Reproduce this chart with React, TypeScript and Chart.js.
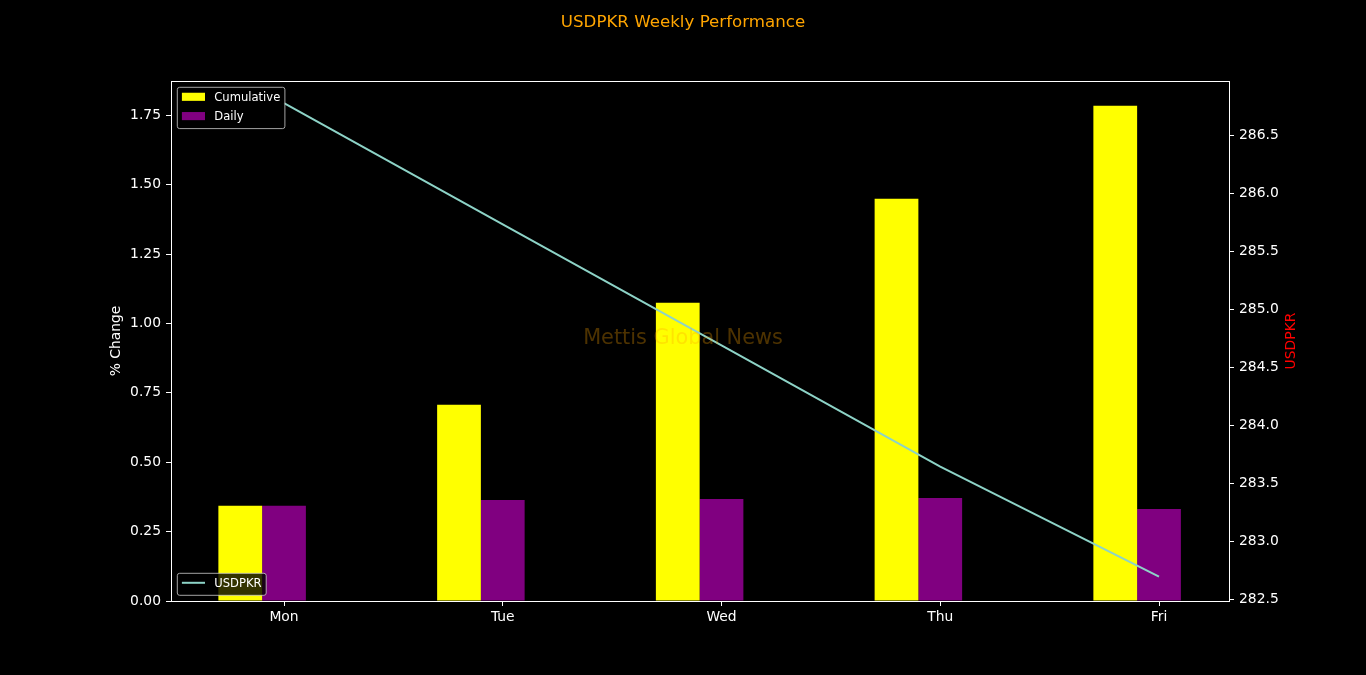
import React, { useEffect, useRef } from 'react';
import { Chart, registerables } from 'chart.js';

Chart.register(...registerables);

// ---- data ----
const days = ['Mon', 'Tue', 'Wed', 'Thu', 'Fri'];
const cumulative = [0.343, 0.707, 1.075, 1.45, 1.785];
const daily = [0.343, 0.364, 0.368, 0.371, 0.332];
const usdpkr = [286.776, 285.731, 284.687, 283.643, 282.695];
const leftTicks = [0, 0.25, 0.5, 0.75, 1.0, 1.25, 1.5, 1.75];
const rightTicks = [282.5, 283.0, 283.5, 284.0, 284.5, 285.0, 285.5, 286.0, 286.5];
const titleText = 'USDPKR Weekly Performance';
const watermarkText = 'Mettis Global News';
const leftAxisTitle = '% Change';
const rightAxisTitle = 'USDPKR';

// ---- styles ----
const FONT = "'DejaVu Sans', sans-serif";
const TICK_SIZE = 13.89;
const LEGEND_SIZE = 11.57;
const YELLOW = '#ffff00';
const PURPLE = '#800080';
const TEAL = '#8dd3c7';

type LegendItem = { label: string; color: string; kind: 'box' | 'line' };

function drawLegend(ctx: CanvasRenderingContext2D, x: number, y: number, items: LegendItem[]) {
  ctx.save();
  ctx.font = `${LEGEND_SIZE}px ${FONT}`;
  const pad = 4.6;
  const handleLen = 23.1;
  const handlePad = 9.3;
  const rowGap = 19.3;
  let maxW = 0;
  items.forEach((it) => (maxW = Math.max(maxW, ctx.measureText(it.label).width)));
  const w = pad + handleLen + handlePad + maxW + pad;
  const h = 22 + (items.length - 1) * rowGap;
  const r = 2.3;
  ctx.beginPath();
  ctx.moveTo(x + r, y);
  ctx.lineTo(x + w - r, y);
  ctx.quadraticCurveTo(x + w, y, x + w, y + r);
  ctx.lineTo(x + w, y + h - r);
  ctx.quadraticCurveTo(x + w, y + h, x + w - r, y + h);
  ctx.lineTo(x + r, y + h);
  ctx.quadraticCurveTo(x, y + h, x, y + h - r);
  ctx.lineTo(x, y + r);
  ctx.quadraticCurveTo(x, y, x + r, y);
  ctx.closePath();
  ctx.fillStyle = 'rgba(0,0,0,0.8)';
  ctx.fill();
  ctx.strokeStyle = 'rgba(204,204,204,0.8)';
  ctx.lineWidth = 1;
  ctx.stroke();
  items.forEach((it, i) => {
    const cy = y + 9.5 + i * rowGap;
    const hx = x + pad;
    if (it.kind === 'box') {
      ctx.fillStyle = it.color;
      ctx.fillRect(hx, cy - 4.05, handleLen, 8.1);
    } else {
      ctx.strokeStyle = it.color;
      ctx.lineWidth = 2;
      ctx.beginPath();
      ctx.moveTo(hx, cy);
      ctx.lineTo(hx + handleLen, cy);
      ctx.stroke();
    }
    ctx.fillStyle = '#ffffff';
    ctx.textAlign = 'left';
    ctx.textBaseline = 'alphabetic';
    ctx.fillText(it.label, hx + handleLen + handlePad, cy + 4.2);
  });
  ctx.restore();
}

const decorPlugin = {
  id: 'decor',
  beforeDraw(chart: any) {
    const ctx = chart.ctx as CanvasRenderingContext2D;
    ctx.save();
    ctx.fillStyle = '#000000';
    ctx.fillRect(0, 0, chart.width, chart.height);
    ctx.restore();
  },
  afterDatasetsDraw(chart: any) {
    const ctx = chart.ctx as CanvasRenderingContext2D;
    const a = chart.chartArea;
    // watermark
    ctx.save();
    ctx.font = `20.83px ${FONT}`;
    ctx.fillStyle = 'rgba(255,165,0,0.3)';
    ctx.textAlign = 'center';
    ctx.textBaseline = 'alphabetic';
    ctx.fillText(watermarkText, chart.width / 2, 343.5);
    ctx.restore();
    // frame
    ctx.save();
    ctx.strokeStyle = '#ffffff';
    ctx.lineWidth = 1;
    ctx.strokeRect(
      Math.round(a.left) + 0.5,
      Math.round(a.top) + 0.5,
      Math.round(a.right - a.left),
      Math.round(a.bottom - a.top)
    );
    ctx.restore();
    // legends
    const ds = chart.data.datasets;
    drawLegend(ctx, a.left + 6.3, a.top + 6.3, [
      { label: ds[1].label, color: ds[1].backgroundColor, kind: 'box' },
      { label: ds[2].label, color: ds[2].backgroundColor, kind: 'box' },
    ]);
    drawLegend(ctx, a.left + 6.3, a.bottom - 5.7 - 22, [
      { label: ds[0].label, color: ds[0].borderColor, kind: 'line' },
    ]);
    // title
    ctx.save();
    ctx.font = `16.67px ${FONT}`;
    ctx.fillStyle = '#ffa500';
    ctx.textAlign = 'center';
    ctx.textBaseline = 'alphabetic';
    ctx.fillText(titleText, chart.width / 2, 27);
    ctx.restore();
    // right axis title (reads bottom-to-top)
    ctx.save();
    ctx.font = `${TICK_SIZE}px ${FONT}`;
    ctx.fillStyle = '#ff0000';
    ctx.textAlign = 'center';
    ctx.textBaseline = 'middle';
    ctx.translate(1291.5, (a.top + a.bottom) / 2);
    ctx.rotate(-Math.PI / 2);
    ctx.fillText(rightAxisTitle, 0, 0);
    ctx.restore();
  },
};

const tickFont = { family: FONT, size: TICK_SIZE };
const gridOpts = {
  display: true,
  drawOnChartArea: false,
  drawTicks: true,
  offset: false,
  tickLength: 5,
  color: '#ffffff',
  tickColor: '#ffffff',
  tickWidth: 1,
};

export default function App() {
  const ref = useRef<HTMLCanvasElement | null>(null);

  useEffect(() => {
    document.body.style.margin = '0';
    document.body.style.background = '#000';
    const canvas = ref.current!;
    const chart = new Chart(canvas, {
      type: 'bar',
      data: {
        datasets: [
          {
            type: 'line',
            label: 'USDPKR',
            data: usdpkr.map((v, i) => ({ x: i, y: v })),
            borderColor: TEAL,
            backgroundColor: TEAL,
            borderWidth: 2,
            pointRadius: 0,
            tension: 0,
            yAxisID: 'y1',
            xAxisID: 'x',
            order: 0,
          } as any,
          {
            type: 'bar',
            label: 'Cumulative',
            data: cumulative.map((v, i) => ({ x: i - 0.1, y: v })),
            backgroundColor: YELLOW,
            borderWidth: 0,
            categoryPercentage: 0.4,
            barPercentage: 1.0,
            yAxisID: 'y',
            xAxisID: 'x',
            order: 1,
          },
          {
            type: 'bar',
            label: 'Daily',
            data: daily.map((v, i) => ({ x: i - 0.1, y: v })),
            backgroundColor: PURPLE,
            borderWidth: 0,
            categoryPercentage: 0.4,
            barPercentage: 1.0,
            yAxisID: 'y',
            xAxisID: 'x',
            order: 1,
          },
        ],
      },
      options: {
        animation: false,
        responsive: false,
        maintainAspectRatio: false,
        devicePixelRatio: 1,
        layout: { padding: { top: 81, left: 100, right: 59, bottom: 0 } },
        plugins: {
          legend: { display: false },
          title: { display: false },
          tooltip: { enabled: false },
        },
        scales: {
          x: {
            type: 'linear',
            position: 'bottom',
            offset: false,
            min: -0.5166,
            max: 4.32,
            afterBuildTicks: (s: any) => {
              s.ticks = days.map((_, i) => ({ value: i }));
            },
            afterFit: (s: any) => {
              s.height = 74;
            },
            ticks: {
              color: '#ffffff',
              font: tickFont,
              padding: 3,
              autoSkip: false,
              maxRotation: 0,
              callback: (v: any) => days[Math.round(Number(v))] ?? '',
            },
            grid: gridOpts,
            border: { display: false },
          },
          y: {
            type: 'linear',
            position: 'left',
            min: 0,
            max: 1.874,
            afterBuildTicks: (s: any) => {
              s.ticks = leftTicks.map((v) => ({ value: v }));
            },
            afterFit: (s: any) => {
              s.width = 71;
            },
            ticks: {
              color: '#ffffff',
              font: tickFont,
              padding: 5,
              callback: (v: any) => Number(v).toFixed(2),
            },
            grid: gridOpts,
            border: { display: false },
            title: {
              display: true,
              text: leftAxisTitle,
              color: '#ffffff',
              font: tickFont,
              padding: { top: 8, bottom: 0 },
            },
          },
          y1: {
            type: 'linear',
            position: 'right',
            min: 282.485,
            max: 286.966,
            afterBuildTicks: (s: any) => {
              s.ticks = rightTicks.map((v) => ({ value: v }));
            },
            afterFit: (s: any) => {
              s.width = 78;
            },
            ticks: {
              color: '#ffffff',
              font: tickFont,
              padding: 5,
              callback: (v: any) => Number(v).toFixed(1),
            },
            grid: gridOpts,
            border: { display: false },
          },
        },
      } as any,
      plugins: [decorPlugin],
    });
    return () => chart.destroy();
  }, []);

  return <canvas ref={ref} width={1366} height={675} style={{ display: 'block' }} />;
}
